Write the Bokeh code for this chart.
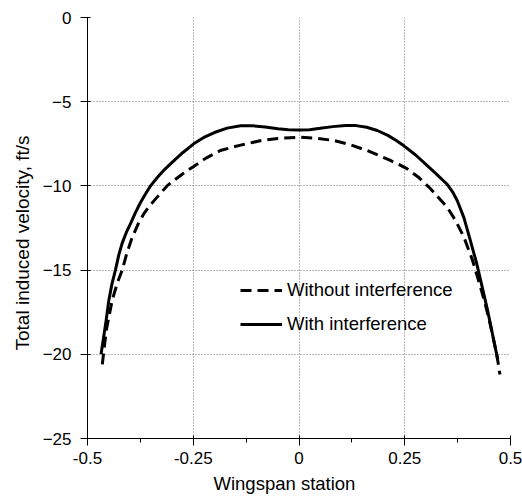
from bokeh.plotting import figure
from bokeh.models import FixedTicker, Legend, LegendItem, Range1d, Title
from bokeh.embed import file_html
from bokeh.resources import INLINE

# Data: wingspan station vs total induced velocity (ft/s)
with_x = [-0.468, -0.462, -0.456, -0.4496, -0.442, -0.434, -0.426, -0.418, -0.408, -0.398,
          -0.387, -0.375, -0.363, -0.351, -0.335, -0.318, -0.30, -0.275, -0.249, -0.225,
          -0.20, -0.170, -0.138, -0.11, -0.08, -0.05, -0.025, 0.0, 0.025, 0.05,
          0.08, 0.11, 0.135, 0.16, 0.185, 0.21, 0.23, 0.248, 0.275, 0.30,
          0.325, 0.35, 0.363, 0.374, 0.39, 0.405, 0.42, 0.433, 0.445, 0.455,
          0.463, 0.47]
with_v = [-20.0, -19.0, -18.0, -16.8, -15.8, -15.0, -14.1, -13.4, -12.75, -12.23,
          -11.6, -11.0, -10.48, -10.0, -9.5, -9.03, -8.6, -8.03, -7.5, -7.12,
          -6.83, -6.57, -6.43, -6.43, -6.5, -6.6, -6.67, -6.68, -6.66, -6.58,
          -6.48, -6.42, -6.42, -6.52, -6.71, -7.0, -7.3, -7.62, -8.15, -8.72,
          -9.3, -9.9, -10.35, -10.87, -11.9, -13.24, -14.6, -16.0, -17.3, -18.5,
          -19.5, -20.3]

without_x = [-0.465, -0.46, -0.455, -0.448, -0.4417, -0.43, -0.418, -0.407, -0.395, -0.381,
             -0.367, -0.354, -0.34, -0.326, -0.312, -0.296, -0.28, -0.265, -0.249, -0.22,
             -0.186, -0.16, -0.138, -0.11, -0.089, -0.05, 0.0, 0.04, 0.082, 0.12,
             0.161, 0.19, 0.216, 0.236, 0.256, 0.284, 0.311, 0.33, 0.35, 0.37,
             0.39, 0.41, 0.429, 0.44, 0.45, 0.458, 0.465, 0.47, 0.475]
without_v = [-20.6, -19.5, -18.5, -17.6, -16.8, -15.8, -15.0, -14.0, -13.1, -12.3,
             -11.66, -11.2, -10.8, -10.4, -10.0, -9.68, -9.38, -9.1, -8.85, -8.35,
             -7.9, -7.72, -7.58, -7.42, -7.3, -7.18, -7.11, -7.17, -7.3, -7.55,
             -7.9, -8.2, -8.49, -8.72, -8.99, -9.52, -10.17, -10.7, -11.26, -12.05,
             -13.05, -14.4, -16.0, -17.0, -18.0, -18.9, -19.7, -20.4, -21.2]

x_ticks = [-0.5, -0.25, 0, 0.25, 0.5]
x_tick_labels = ["-0.5", "-0.25", "0", "0.25", "0.5"]
x_minor = [-0.375, -0.125, 0.125, 0.375]
y_ticks = [0, -5, -10, -15, -20, -25]

x_title = "Wingspan station"
y_title = "Total induced velocity, ft/s"
series_names = ["Without interference", "With interference"]

FONT = "Liberation Sans"

p = figure(width=522, height=500, output_backend="svg", toolbar_location=None,
           x_range=Range1d(-0.5, 0.5), y_range=Range1d(-25, 0),
           min_border_left=87, min_border_right=12, min_border_top=17, min_border_bottom=62)
p.outline_line_color = None
p.background_fill_color = "white"

l_without = p.line(without_x, without_v, line_color="black", line_width=3, line_dash="11 6")
l_with = p.line(with_x, with_v, line_color="black", line_width=3)

for ax in (p.xaxis[0], p.yaxis[0]):
    ax.axis_line_color = "black"
    ax.axis_line_width = 1
    ax.major_tick_line_color = "black"
    ax.minor_tick_line_color = "black"
    ax.major_tick_in = 3
    ax.major_tick_out = 7
    ax.major_label_text_font = FONT
    ax.major_label_text_font_size = "17px"
    ax.major_label_text_color = "black"

p.xaxis.ticker = FixedTicker(ticks=x_ticks, minor_ticks=x_minor)
p.xaxis.major_label_overrides = {t: s for t, s in zip(x_ticks, x_tick_labels)}
p.xaxis.minor_tick_in = 0
p.xaxis.minor_tick_out = 4
p.xaxis.major_label_standoff = 6

p.yaxis.ticker = FixedTicker(ticks=y_ticks)
p.yaxis.minor_tick_in = 0
p.yaxis.minor_tick_out = 0
p.yaxis.major_label_standoff = 9

for g in (p.xgrid[0], p.ygrid[0]):
    g.grid_line_color = "#707070"
    g.grid_line_dash = "1 2"
    g.grid_line_width = 1

# Axis titles (slightly off-centre as in the reference)
tx = Title(text=x_title, align="left", offset=126, standoff=8,
           text_font=FONT, text_font_size="18.5px", text_font_style="normal",
           text_color="black")
p.add_layout(tx, "below")
ty = Title(text=y_title, align="left", offset=88, standoff=14,
           text_font=FONT, text_font_size="19px", text_font_style="normal",
           text_color="black")
p.add_layout(ty, "left")

legend = Legend(items=[LegendItem(label=series_names[0], renderers=[l_without]),
                       LegendItem(label=series_names[1], renderers=[l_with])],
                location=(153, 103))
legend.background_fill_alpha = 0
legend.border_line_color = None
legend.padding = 0
legend.margin = 0
legend.spacing = 12
legend.glyph_width = 42
legend.glyph_height = 20
legend.label_height = 20
legend.label_standoff = 5
legend.label_text_font = FONT
legend.label_text_font_size = "18.5px"
legend.label_text_color = "black"
p.add_layout(legend)

open("out.html", "w").write(file_html(p, INLINE))
